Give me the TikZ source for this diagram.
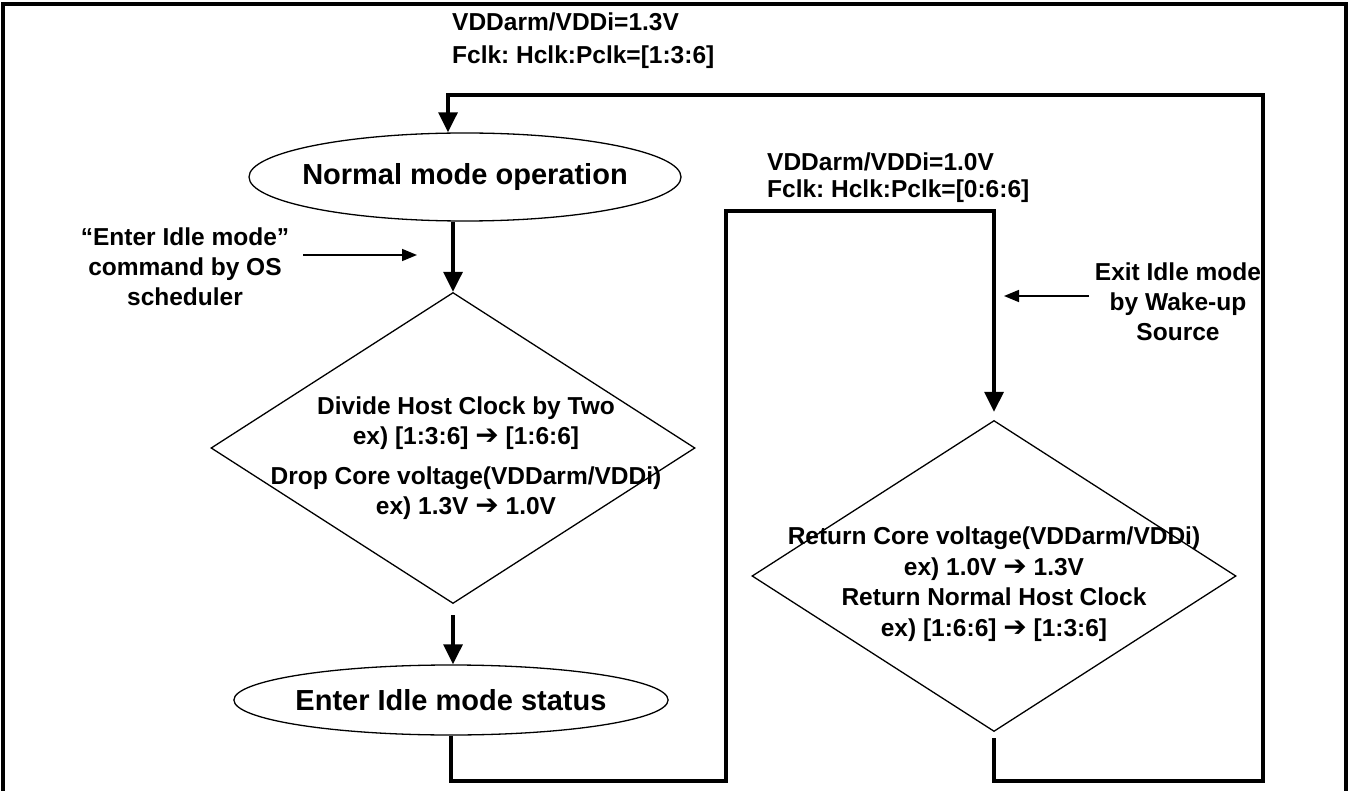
\documentclass[tikz,border=0pt]{standalone}
\usepackage{fontspec}
\setmainfont{Liberation Sans}
\newfontfamily\symfont{DejaVu Sans}
\usetikzlibrary{shapes.geometric,arrows.meta}
\newcommand{\rarr}{{\symfont\mdseries\fontsize{28}{28}\selectfont ➔}}
\begin{document}
\begin{tikzpicture}[x=1pt,y=-1pt,
  lbl/.style={font=\frenchspacing\bfseries\fontsize{24.5}{30}\selectfont, inner sep=0pt, align=center},
  ell/.style={ellipse, draw, line width=1.3pt, inner ysep=0pt, font=\bfseries\fontsize{29}{34}\selectfont},
  dia/.style={diamond, draw, line width=1.3pt, inner sep=0pt},
  flow/.style={line width=3.2pt, -{Triangle[length=20pt,width=19pt]}},
  side/.style={line width=1.6pt, -{Triangle[length=15pt,width=12pt]}},
  frame/.style={line width=3.2pt}
]
\useasboundingbox (0,0) rectangle (1349,791);
\draw[frame] (3,791) -- (3,4) -- (1346,4) -- (1346,791);

% labels
\node[lbl, align=left, anchor=west, font=\frenchspacing\bfseries\fontsize{24.5}{33}\selectfont] (t1) at (452,41) {VDDarm/VDDi=1.3V\\Fclk:\ Hclk:Pclk=[1:3:6]};
\node[lbl, align=left, anchor=west, font=\frenchspacing\bfseries\fontsize{24.5}{27}\selectfont] (t2) at (767,178) {VDDarm/VDDi=1.0V\\Fclk:\ Hclk:Pclk=[0:6:6]};
\node[lbl] (l1) at (185,267) {“Enter Idle mode”\\command by OS\\scheduler};
\node[lbl] (l2) at (1178,302) {Exit Idle mode\\by Wake-up\\Source};

% shapes
\node[ell, inner xsep=-10pt, minimum height=88pt] (n1) at (465,177) {Normal mode operation};
\node[dia, minimum width=484pt, minimum height=311pt] (d1) at (453,448) {};
\node[lbl] (d1t) at (466,458) {Divide Host Clock by Two\\ex) [1:3:6] \rarr{} [1:6:6]\\[10pt]Drop Core voltage(VDDarm/VDDi)\\ex) 1.3V \rarr{} 1.0V};
\node[ell, inner xsep=-2pt, minimum height=70pt] (n2) at (451,700) {Enter Idle mode status};
\node[dia, minimum width=484pt, minimum height=311pt] (d2) at (994,576) {};
\node[lbl, font=\frenchspacing\bfseries\fontsize{24.5}{30.5}\selectfont] (d2t) at (994,584) {Return Core voltage(VDDarm/VDDi)\\ex) 1.0V \rarr{} 1.3V\\Return Normal Host Clock\\ex) [1:6:6] \rarr{} [1:3:6]};

% helper coordinates
\coordinate (ybot) at (0,781);
\coordinate (rr) at (1263,95);
\coordinate (lt) at (448,95);
\coordinate (mt) at (726,211);
\coordinate (d2out) at ([yshift=-6pt]d2.south);
\coordinate (d1out) at ([yshift=-11pt]d1.south);
\coordinate (d2in) at ([yshift=8pt]d2.north);

% connectors
\draw[flow] (d2out) -- (d2out |- ybot) -| (rr) -- (lt) -- (n1.north -| lt);
\draw[flow] (n1.south -| d1.north) -- (d1.north);
\draw[flow] (d1out) -- (n2.north -| d1out);
\draw[flow] (n2.south) -- (n2.south |- ybot) -| (mt) -| (d2in);

% side arrows
\coordinate (a1s) at (303,255);
\coordinate (a1e) at (417,255);
\coordinate (a2s) at (1089,296);
\coordinate (a2e) at (1004,296);
\draw[side] (a1s) -- (a1e);
\draw[side] (a2s) -- (a2e);
\end{tikzpicture}
\end{document}
